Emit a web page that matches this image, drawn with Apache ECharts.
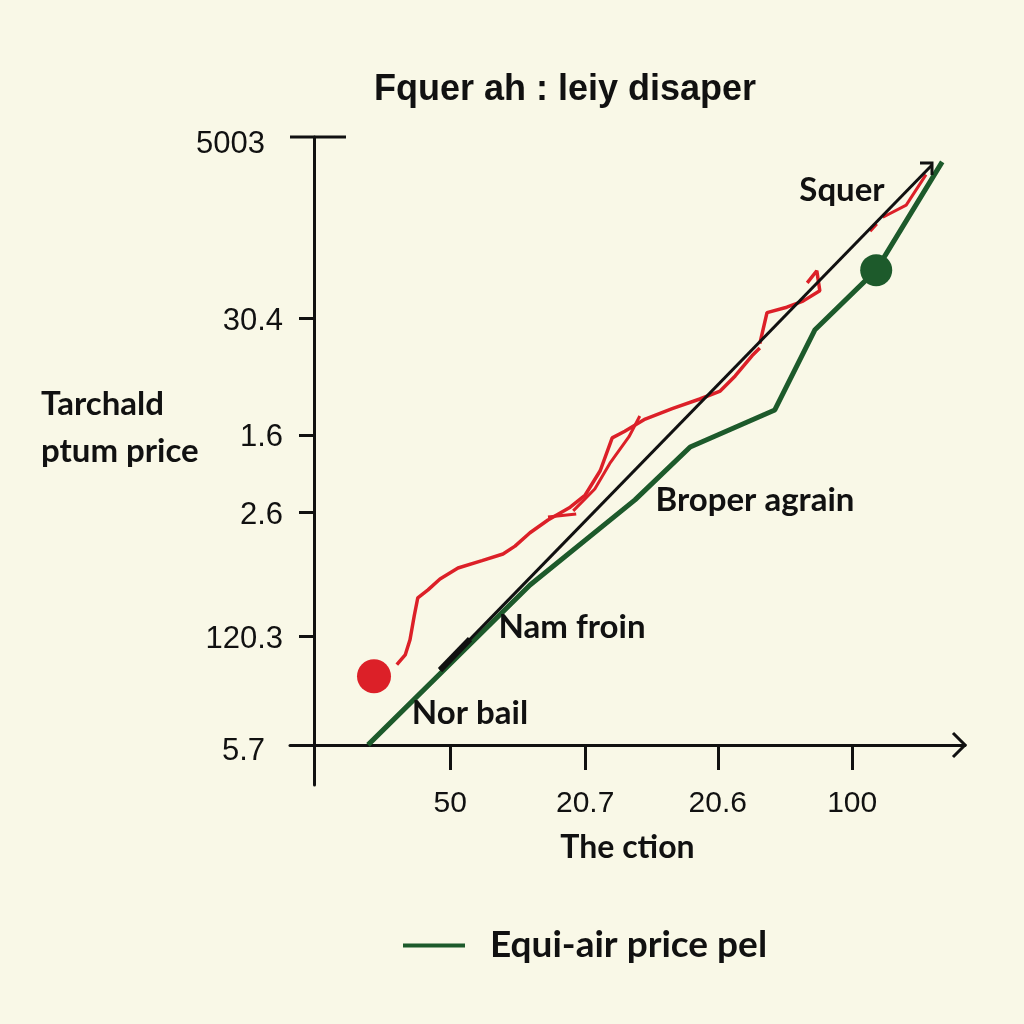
<!DOCTYPE html>
<html><head><meta charset="utf-8">
<script src="https://cdn.jsdelivr.net/npm/echarts@6/dist/echarts.min.js"></script>
<style>html,body{margin:0;padding:0;background:#f9f8e7}#c{width:1024px;height:1024px}</style>
</head><body><div id="c"></div>
<script>
// ---- data ----
const titleText = 'Fquer ah : leiy disaper';
const yName = 'Tarchald\nptum price';
const xName = 'The ction';
const legendName = 'Equi-air price pel';
const yTickVals = [100, 70.2, 51.0, 38.2, 17.9, 0];
const yTickLabels = ['5003', '30.4', '1.6', '2.6', '120.3', '5.7'];
const xTickVals = [22.7, 45.2, 67.3, 89.7];
const xTickLabels = ['50', '20.7', '20.6', '100'];
const greenLine = [[9,0],[36,26.3],[53.5,40.3],[62.7,49],[76.8,55.1],[83.5,68.3],[93.7,78.1],[104.7,95.9]];
const redMain = [[13.8,13.2],[15.2,14.8],[16,17.3],[16.7,21.2],[17.3,24.2],[19,25.5],[21,27.3],[24,29.1],[28,30.3],[31.5,31.4],[33.5,32.7],[36,34.9],[39,37],[42.7,39.1],[45.2,41.1],[47.7,45.1],[49.7,50.5],[51.8,51.6],[55.2,53.6],[59.7,55.3],[64.3,56.9],[67.7,58.2],[70.2,60.7],[73,64],[74.3,65.3]];
const redUpper = [[74.3,66],[75.5,71.1],[78.8,72],[81.5,73],[84.3,74.7],[83.8,78],[82.2,76]];
const redDash1 = [[92.7,84.5],[93.8,85.7]];
const redDash2 = [[94.8,86.8],[98.7,88.8],[102,93.8]];
const redAlt = [[39,37.5],[43.7,38]];
const redAlt2 = [[43.2,38.5],[46.8,42.1],[49.3,46.3],[52.5,50.7],[54.3,54.1]];
const blackLine = [[21,12.3],[103,95.4]];
const blackThick = [[21,12.3],[26,17.4]];
const redDot = [[10,11.3]];
const greenDot = [[93.7,78.1]];
const notes = [
  {text:'Squer', x:842, y:190},
  {text:'Broper agrain', x:755, y:500},
  {text:'Nam froin', x:572, y:627},
  {text:'Nor bail', x:470, y:713}
];
// ---- chart ----
const RED = '#dc2028', GREEN = '#1d5a2b', INK = '#111';
const sans = '"Liberation Sans", Arial, sans-serif';
const lato = 'Lato, "Liberation Sans", sans-serif';
const chart = echarts.init(document.getElementById('c'));
const redSeries = (d, w) => ({type:'line', data:d, symbol:'none', lineStyle:{color:RED, width:w||3.5}, z:3, silent:true});
chart.setOption({
  backgroundColor:'#f9f8e7',
  animation:false,
  title:[
    {text:titleText, left:369, top:67, textStyle:{fontFamily:sans, fontSize:36, fontWeight:'bold', color:INK}},
    {text:yName, left:36, top:376, textStyle:{fontFamily:lato, fontSize:33, fontWeight:'bold', color:INK, lineHeight:47}}
  ],
  grid:{left:290, right:59, top:137, bottom:239},
  legend:{data:[legendName], left:398, top:922, itemWidth:62, itemHeight:4, icon:'rect',
    textStyle:{fontFamily:lato, fontSize:37, fontWeight:'bold', color:INK, padding:[0,0,0,20]}},
  xAxis:{type:'value', min:-4, max:108.5,
    name:xName, nameLocation:'middle', nameGap:47,
    nameTextStyle:{fontFamily:lato, fontSize:32, fontWeight:'bold', color:INK},
    axisLine:{onZero:true, lineStyle:{color:INK, width:3}},
    axisTick:{show:true, length:25, lineStyle:{color:INK, width:3}, customValues:xTickVals},
    axisLabel:{customValues:xTickVals, margin:4, fontFamily:sans, fontSize:30, color:INK,
      formatter:v=>{const i=xTickVals.findIndex(t=>Math.abs(t-v)<1e-6);return i>=0?xTickLabels[i]:'';}},
    splitLine:{show:false}},
  yAxis:{type:'value', min:-6.6, max:100,
    axisLine:{onZero:true, lineStyle:{color:INK, width:3}},
    axisTick:{show:true, length:15, lineStyle:{color:INK, width:3}, customValues:yTickVals.slice(1,5)},
    axisLabel:{customValues:yTickVals, margin:7, fontFamily:sans, fontSize:31, color:INK, padding:[6,0,0,0],
      formatter:v=>{const i=yTickVals.findIndex(t=>Math.abs(t-v)<1e-6);if(i<0)return '';return (i===0||i===5)?'{far|'+yTickLabels[i]+'}':yTickLabels[i];},
      rich:{far:{fontFamily:sans, fontSize:31, color:INK, padding:[8,18,0,0]}}},
    splitLine:{show:false}},
  series:[
    {name:legendName, type:'line', data:greenLine, symbol:'none', lineStyle:{color:GREEN, width:5}, itemStyle:{color:GREEN}, z:2},
    {type:'line', data:blackLine, symbol:'none', lineStyle:{color:INK, width:3}, z:4},
    {type:'line', data:blackThick, symbol:'none', lineStyle:{color:INK, width:6}, z:4},
    redSeries(redMain), redSeries(redUpper), redSeries(redDash1,3), redSeries(redDash2,3), redSeries(redAlt,3), redSeries(redAlt2,3),
    {type:'scatter', data:redDot, symbolSize:34, itemStyle:{color:RED, opacity:1}, z:5},
    {type:'scatter', data:greenDot, symbolSize:32, itemStyle:{color:GREEN, opacity:1}, z:5}
  ]
});
// decorations: arrow heads, top cap, and annotation labels
const tip = chart.convertToPixel({gridIndex:0}, blackLine[1]);
const gr = [
  {type:'line', shape:{x1:290, y1:137, x2:346, y2:137}, style:{stroke:INK, lineWidth:3}, z:10},
  {type:'polyline', shape:{points:[[953,733],[965,745],[953,757]]}, style:{stroke:INK, lineWidth:3, fill:null}, z:10},
  {type:'polyline', shape:{points:[[tip[0]-12,tip[1]-2],[tip[0],tip[1]-2],[tip[0],tip[1]+10]]}, style:{stroke:INK, lineWidth:3, fill:null}, z:10}
];
notes.forEach(n=>gr.push({type:'text', x:n.x, y:n.y, z:10, style:{text:n.text, fill:INK,
  font:'bold 33px Lato, "Liberation Sans", sans-serif', textAlign:'center', textVerticalAlign:'middle'}}));
chart.setOption({graphic:gr});
</script></body></html>
